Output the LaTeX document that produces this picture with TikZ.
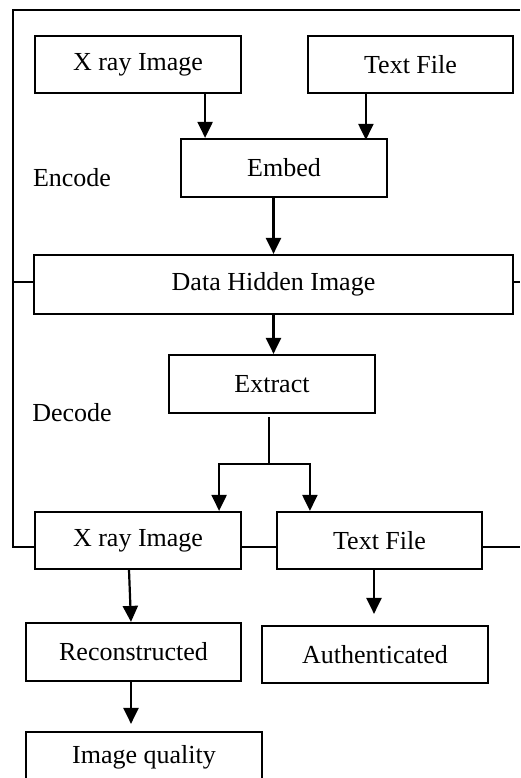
\documentclass[tikz,border=0pt]{standalone}
\usepackage{fontspec}
\setmainfont{Liberation Serif}
\usetikzlibrary{arrows.meta,calc}
\begin{document}
\begin{tikzpicture}[x=1pt,y=-1pt,
  box/.style={draw,line width=2.2pt,rectangle,inner sep=0pt,
    font=\fontsize{26}{30}\selectfont},
  lbl/.style={font=\fontsize{26}{30}\selectfont},
  ln/.style={line width=2.2pt},
  arr/.style={line width=2.2pt,-{Triangle[width=15pt,length=16pt]}}]
\useasboundingbox[fill=white] (0,0) rectangle (520,778);
% nodes
\node[box,minimum width=206pt,minimum height=57pt] (xr1) at (138,64.5) {X ray Image};
\node[box,minimum width=205pt,minimum height=57pt] (tf1) at (410.5,64.5) {Text File};
\node[box,minimum width=206pt,minimum height=58pt] (embed) at (284,168) {Embed};
\node[box,minimum width=479pt,minimum height=59pt] (dhi) at (273.5,284.5) {Data Hidden Image};
\node[box,minimum width=206pt,minimum height=58pt] (extract) at (272,384) {Extract};
\node[box,minimum width=206pt,minimum height=57pt] (xr2) at (138,540.5) {X ray Image};
\node[box,minimum width=205pt,minimum height=57pt] (tf2) at (379.5,540.5) {Text File};
\node[box,minimum width=215pt,minimum height=58pt] (recon) at (133.5,652) {Reconstructed};
\node[box,minimum width=226pt,minimum height=57pt] (auth) at (375,654.5) {Authenticated};
\node[box,minimum width=236pt,minimum height=50pt] (iq) at (144,757) {Image quality};
\node[lbl] (enc) at (72,178) {Encode};
\node[lbl] (dec) at (72,413) {Decode};
% frame
\coordinate (ftl) at (13,10);
\coordinate (ftr) at (520,10);
\coordinate (dl) at (13,282);
\coordinate (dr) at (520,282);
\coordinate (xl) at (13,547);
\coordinate (xr) at (520,547);
\draw[ln] (ftr) -- (ftl) -- (xl) -- (xl -| xr2.west);
\draw[ln] (dl) -- (dl -| dhi.west);
\draw[ln] (dhi.east |- dr) -- (dr);
\draw[ln] (xl -| xr2.east) -- (xl -| tf2.west);
\draw[ln] (xl -| tf2.east) -- (xr);
% arrows
\draw[arr] ([xshift=-37pt]xr1.south east) -- ([xshift=-37pt]xr1.south east |- embed.north);
\draw[arr] ([xshift=59pt]tf1.south west) -- ([xshift=59pt,yshift=-2pt]tf1.south west |- embed.north);
\draw[arr] (dhi.north |- embed.south) -- (dhi.north);
\draw[arr] (dhi.south) -- (dhi.south |- extract.north);
\coordinate (sp) at (269,464);
\draw[ln] ([yshift=-3pt]extract.south -| sp) -- (sp);
\draw[arr] (sp) -| ([xshift=-23pt]xr2.north east);
\draw[arr] (sp) -| ([xshift=34pt]tf2.north west);
\draw[arr] ([xshift=-9pt]xr2.south) -- ([xshift=-2.5pt]recon.north);
\draw[arr] ([xshift=-5.5pt]tf2.south) -- ([xshift=-1pt,yshift=11pt]auth.north);
\draw[arr] ([xshift=-2.5pt]recon.south) -- ([xshift=-13pt,yshift=7pt]iq.north);
\end{tikzpicture}
\end{document}
